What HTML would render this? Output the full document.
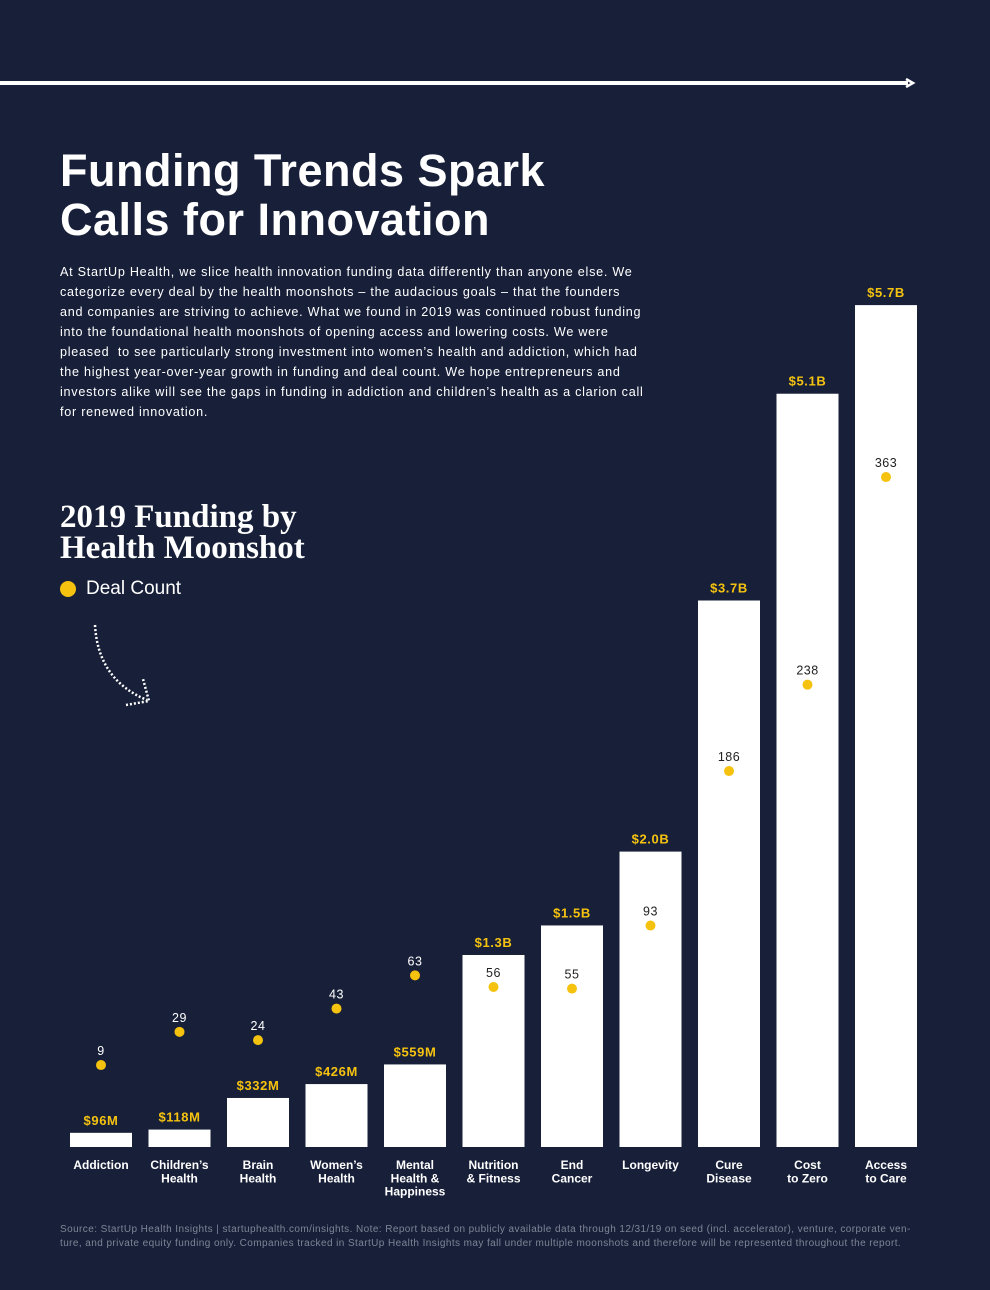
<!DOCTYPE html>
<html><head><meta charset="utf-8">
<style>
html,body{margin:0;padding:0}
body{width:990px;height:1290px;background:#182039;position:relative;overflow:hidden;font-family:"Liberation Sans",sans-serif;color:#fff}
#title{position:absolute;left:60px;top:146px;font-size:45px;font-weight:bold;line-height:49px;letter-spacing:0.5px;margin:0}
#intro{position:absolute;left:60px;top:262px;width:640px;font-size:12.6px;line-height:20px;letter-spacing:0.75px;margin:0;white-space:nowrap}
#sub{position:absolute;left:60px;top:502px;font-family:"Liberation Serif",serif;font-weight:bold;font-size:33px;line-height:31px;margin:0}
#legend{position:absolute;left:60px;top:578px;font-size:19px;display:flex;align-items:center}
#legend span.d{width:16px;height:16px;border-radius:50%;background:#f5c20f;display:inline-block;margin-right:10px}
#src{position:absolute;left:60px;top:1223px;width:880px;font-size:10px;line-height:14px;color:#7f8496;letter-spacing:0.42px;white-space:nowrap}
svg{position:absolute;left:0;top:0}
</style></head><body>
<svg id="chart" width="990" height="1290">
<line x1="0" y1="83" x2="908" y2="83" stroke="#fff" stroke-width="4"/>
<path d="M906 79 L913 83 L906 87" fill="none" stroke="#fff" stroke-width="2.5"/>
<path d="M95 625 Q98 680 147 700" fill="none" stroke="#fff" stroke-width="2.5" stroke-dasharray="2,2"/>
<path d="M126 705 L149 701 L143 679" fill="none" stroke="#fff" stroke-width="2.5" stroke-dasharray="2,2"/>
<g id="bars"></g>
</svg>
<h1 id="title">Funding Trends Spark<br>Calls for Innovation</h1>
<p id="intro">At StartUp Health, we slice health innovation funding data differently than anyone else. We<br>categorize every deal by the health moonshots – the audacious goals – that the founders<br>and companies are striving to achieve. What we found in 2019 was continued robust funding<br>into the foundational health moonshots of opening access and lowering costs. We were<br>pleased&nbsp; to see particularly strong investment into women’s health and addiction, which had<br>the highest year-over-year growth in funding and deal count. We hope entrepreneurs and<br>investors alike will see the gaps in funding in addiction and children’s health as a clarion call<br>for renewed innovation.</p>
<h2 id="sub">2019 Funding by<br>Health Moonshot</h2>
<div id="legend"><span class="d"></span>Deal Count</div>
<div id="src">Source: StartUp Health Insights | startuphealth.com/insights. Note: Report based on publicly available data through 12/31/19 on seed (incl. accelerator), venture, corporate ven-<br>ture, and private equity funding only. Companies tracked in StartUp Health Insights may fall under multiple moonshots and therefore will be represented throughout the report.</div>
<script>
const categories=[["Addiction"],["Children’s","Health"],["Brain","Health"],["Women’s","Health"],["Mental","Health &","Happiness"],["Nutrition","& Fitness"],["End","Cancer"],["Longevity"],["Cure","Disease"],["Cost","to Zero"],["Access","to Care"]];
const funding=[0.096,0.118,0.332,0.426,0.559,1.3,1.5,2.0,3.7,5.1,5.7];
const fundingLabels=["$96M","$118M","$332M","$426M","$559M","$1.3B","$1.5B","$2.0B","$3.7B","$5.1B","$5.7B"];
const deals=[9,29,24,43,63,56,55,93,186,238,363];
const NS="http://www.w3.org/2000/svg";
const base=1147;
function yF(v){return base-v*147.7;}
function yD(v){return 1080-v*1.661;}
function xC(i){return 101+i*78.5;}
const g=document.getElementById('bars');
function mk(t,a){const e=document.createElementNS(NS,t);for(const k in a)e.setAttribute(k,a[k]);g.appendChild(e);return e;}
categories.forEach((c,i)=>{
  const x=xC(i),top=yF(funding[i]);
  const r=mk('rect',{x:x-31,y:top,width:62,height:base-top,fill:'#fff'});
  
  
  const fl=mk('text',{x:x,y:top-8,'text-anchor':'middle','font-size':13,'font-weight':'bold',fill:'#f5c20f','letter-spacing':'0.6','font-family':'Liberation Sans, sans-serif'});
  fl.textContent=fundingLabels[i];
  
  
  const dy=yD(deals[i]);
  const d=mk('circle',{cx:x,cy:dy,r:5,fill:'#f5c20f'});
  
  
  const inside=dy>top;
  const dl=mk('text',{x:x,y:dy-10,'text-anchor':'middle','font-size':12.5,fill:inside?'#222':'#fff','letter-spacing':'0.5','font-family':'Liberation Sans, sans-serif'});
  dl.textContent=deals[i];
  
  
  c.forEach((ln,j)=>{
    const t=mk('text',{x:x,y:1169+j*13.3,'text-anchor':'middle','font-size':12,'font-weight':'bold',fill:'#fff','font-family':'Liberation Sans, sans-serif'});
    t.textContent=ln;
    
    
  });
});
</script>
</body></html>
